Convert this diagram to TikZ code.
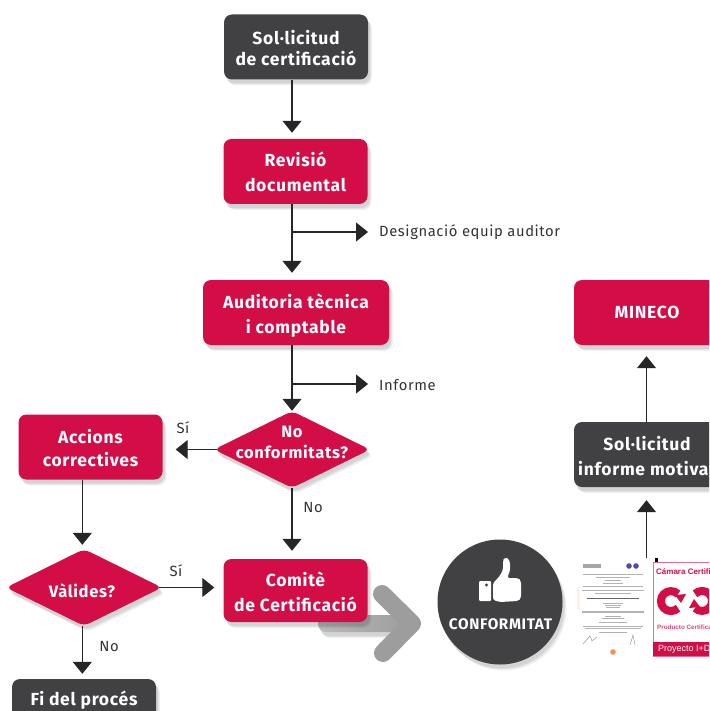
\documentclass[tikz,border=0pt]{standalone}
\usepackage{fontspec}
\setmainfont{Fira Sans}[LetterSpace=4.0]
\newfontfamily\sealfont{Liberation Sans}
\usetikzlibrary{arrows.meta,shapes.geometric,shadows}
\definecolor{certred}{HTML}{D30D45}
\definecolor{certdark}{HTML}{414042}
\definecolor{arrowgrey}{HTML}{9D9D9E}
\newcommand{\ls}{\rule[-4.5pt]{0pt}{25pt}}
\tikzset{
  softshadow/.style={
    general shadow={shadow xshift=4pt,shadow yshift=-6pt,opacity=.05,fill=black},
    general shadow={shadow xshift=3pt,shadow yshift=-5pt,opacity=.06,fill=black},
    general shadow={shadow xshift=2pt,shadow yshift=-4pt,opacity=.07,fill=black}},
  redbox/.style={fill=certred,text=white,rounded corners=8pt,minimum width=144pt,minimum height=65pt,
    align=center,inner sep=0pt,softshadow,font=\fontsize{17.5}{25}\selectfont\bfseries},
  darkbox/.style={redbox,fill=certdark},
  decision/.style={diamond,aspect=2,fill=certred,text=white,rounded corners=6pt,minimum width=156pt,
    minimum height=77pt,inner sep=-30pt,align=center,softshadow,font=\fontsize{16.5}{21}\selectfont\bfseries},
  flow/.style={-{Triangle[width=19pt,length=12pt]},line width=1.1pt,color=black!85},
  note/.style={text=black!80,inner sep=0pt,font=\fontsize{14.8}{17}\selectfont},
}
\begin{document}
\begin{tikzpicture}[x=1pt,y=-1pt]
  \useasboundingbox (0,0) rectangle (709,711);
  \clip (0,0) rectangle (709,711);

  % big grey arrow goes behind the committee box
  \shade[left color=arrowgrey!70,middle color=arrowgrey,right color=arrowgrey,rounded corners=8pt,softshadow] (318,615) rectangle (408,632);
  \draw[arrowgrey,line width=18pt,line cap=round,line join=round] (382,594) -- (412,623.5) -- (383,653);

  % left hand flow
  \node[darkbox] (sol) at (296,47) {\ls Sol·licitud\\[-4pt]\ls de certificació};
  \node[redbox] (rev) at (295.5,171.5) {\ls Revisió\\\ls documental};
  \node[redbox,minimum width=186pt] (aud) at (296,312.5) {\ls Auditoria tècnica\\\ls i comptable};
  \node[decision] (conf) at (292,449.5) {No\\conformitats?\hspace*{3pt}\\[-7pt]\mbox{}};
  \node[redbox] (acc) at (90.5,447) {\ls Accions\\[-2pt]\ls correctives};
  \node[decision] (val) at (84,587.5) {\rule{0pt}{21pt}Vàlides?\hspace*{4pt}};
  \node[redbox,minimum height=63pt] (com) at (295.5,590.5) {\ls Comitè\\\ls de Certificació};
  \node[darkbox,minimum height=42pt] (fi) at (84,700) {Fi del procés};

  \coordinate (desig) at (368,232);
  \coordinate (inf) at (368,384);
  \draw[flow] (sol.south -| conf.north) -- ([yshift=6pt]rev.north -| conf.north);
  \draw[flow] (rev.south -| conf.north) -- ([yshift=7pt]aud.north -| conf.north);
  \draw[flow] (rev.south -| conf.north) |- (desig);
  \draw[flow] (aud.south -| conf.north) -- (conf.north);
  \draw[flow] (aud.south -| conf.north) |- (inf);
  \draw[flow] (conf.south) -- ([yshift=8pt]com.north -| conf.south);
  \draw[flow] ([xshift=3pt]conf.west) -- ([xshift=13pt]acc.east |- conf.west);
  \draw[flow] ([xshift=-1.7pt]val.north |- acc.south) -- ([xshift=-1.7pt,yshift=4pt]val.north);
  \draw[flow] ([xshift=-1.7pt]val.south) -- ([xshift=-1.7pt,yshift=5pt]fi.north -| val.south);
  \draw[flow] ([xshift=-3pt]val.east) -- ([xshift=-9pt]com.west |- val.east);

  \node[note,anchor=west] (ldesig) at (379,232) {Designació equip auditor};
  \node[note,anchor=west] (linf) at (379,385) {Informe};
  \node[note] (lsi1) at (183,428) {Sí};
  \node[note] (lno1) at (313,507) {No};
  \node[note] (lsi2) at (176,571) {Sí};
  \node[note] (lno2) at (109,646) {No};

  % conformity badge
  \node[circle,fill=certdark,minimum size=125pt,inner sep=0pt,softshadow] (ok) at (500,602) {};
  \node[text=white,inner sep=0pt,font=\fontsize{15.3}{16}\selectfont\bfseries] (oktext) at (500.5,624) {CONFORMITAT};
  \fill[white,rounded corners=1pt] (479,581) rectangle (491,601);
  \fill[certdark] (486.5,585) circle (1.6);
  \fill[white,rounded corners=2.5pt] (493,583) -- (499,577) -- (503,570) -- (503,560) -- (505,558) -- (508,558)
    -- (510,562) -- (510,571) -- (507,578) -- (518,578) -- (521,581) -- (521,598) -- (518,601) -- (500,602) -- (493,600) -- cycle;

  % certificate sheet
  \fill[orange!10] (577,587) rectangle (580,610);
  \fill[blue!50!black!70] (629,566) circle (2.8) (636,566) circle (2.8);
  \fill[black!35] (583,564) rectangle (601,568);
  \foreach \yy/\ww in {574/30,577/17,580/8,583/10,586/30,590/31,593/18,603/10,605/8,607/7,611/31,612/31,616/8,618/11,622/14,626/30,628/28,632/14}
    \draw[black!30,line width=.6pt] (613-\ww,\yy) -- (613+\ww,\yy);
  \draw[black!60,line width=1pt] (587,598) -- (639,598);
  \draw[black!40,line width=.5pt] (583,644) -- (590,636) -- (592,641) -- (597,637);
  \draw[black!40,line width=.5pt] (630,645) -- (633,635) -- (635,645);
  \fill[orange!70!red!70] (613,652) circle (2.8);

  % red seal
  \draw[certred!60,line width=.8pt] (653.5,562) rectangle (715,656);
  \fill[certred] (653,642) rectangle (715,656);
  \fill[black] (654.5,557.5) rectangle (658,561.5);
  \node[anchor=west,inner sep=0pt,text=certred,font=\sealfont\fontsize{8}{9}\selectfont\bfseries] (stit) at (656,572) {Cámara Certificado};
  \draw[certred,line width=8pt] (678,594) arc (-45:-315:10);
  \draw[certred,line width=8pt] (695,608) arc (135:-135:10);
  \fill[certred] (675,595) -- (686,594) -- (681,603) -- cycle;
  \fill[certred] (700,607) -- (689,608) -- (694,599) -- cycle;
  \node[anchor=west,inner sep=0pt,text=certred!75,font=\sealfont\fontsize{6.3}{8}\selectfont\bfseries] (spro) at (657,627) {Producto Certificado};
  \node[anchor=west,inner sep=0pt,text=white,font=\sealfont\fontsize{9}{10}\selectfont] (sfoot) at (658,649) {Proyecto I+D+i};

  % right hand flow
  \node[redbox,minimum width=146pt] (min) at (647,312.5) {MINECO};
  \node[darkbox,minimum width=146pt] (inmo) at (647,454.5) {\ls Sol·licitud\\\ls informe motivat};
  \coordinate (doc) at (646.5,558);
  \draw[flow] (doc) -- ([yshift=-13pt]inmo.south -| doc);
  \draw[flow] (inmo.north -| doc) -- ([yshift=-11pt]min.south -| doc);
\end{tikzpicture}
\end{document}
